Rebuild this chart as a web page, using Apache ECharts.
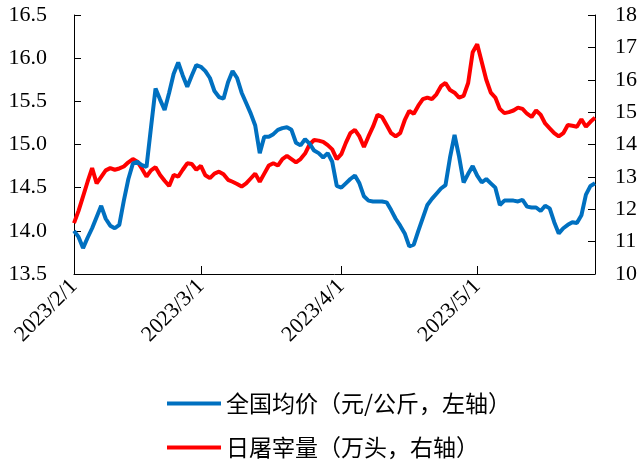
<!DOCTYPE html>
<html>
<head>
<meta charset="utf-8">
<script src="https://cdn.jsdelivr.net/npm/echarts@6/dist/echarts.min.js"></script>
<style>
  html, body { margin: 0; padding: 0; background: #fff; }
  #chart { width: 641px; height: 462px; }
</style>
</head>
<body>
<div id="chart"></div>
<script>
// daily dates 2023/2/1 .. 2023/5/27
const days = [];
for (let i = 0; i < 116; i++) {
  const d = new Date(2023, 1, 1 + i);
  days.push(d.getFullYear() + "/" + (d.getMonth() + 1) + "/" + d.getDate());
}

// 全国均价（元/公斤） - left axis
const priceValues = [
  14.00, 13.93, 13.80, 13.92, 14.03, 14.16, 14.29, 14.14, 14.06, 14.03,
  14.07, 14.35, 14.60, 14.78, 14.80, 14.76, 14.74, 15.20, 15.65, 15.52,
  15.40, 15.60, 15.82, 15.95, 15.80, 15.67, 15.80, 15.92, 15.90, 15.85,
  15.77, 15.62, 15.55, 15.53, 15.72, 15.85, 15.77, 15.60, 15.48, 15.36,
  15.22, 14.90, 15.09, 15.09, 15.12, 15.17, 15.19, 15.20, 15.17, 15.02,
  14.99, 15.06, 15.01, 14.93, 14.90, 14.85, 14.90, 14.80, 14.52, 14.50,
  14.55, 14.60, 14.64, 14.55, 14.40, 14.35, 14.34, 14.34, 14.34, 14.33,
  14.24, 14.14, 14.06, 13.97, 13.82, 13.84, 14.00, 14.15, 14.30, 14.37,
  14.43, 14.49, 14.53, 14.85, 15.11, 14.86, 14.56, 14.66, 14.75, 14.64,
  14.56, 14.60, 14.55, 14.50, 14.30, 14.35, 14.35, 14.35, 14.34, 14.36,
  14.28, 14.27, 14.27, 14.23, 14.29, 14.26, 14.10, 13.97, 14.03, 14.07,
  14.10, 14.09, 14.18, 14.42, 14.52, 14.55
];

// 日屠宰量（万头） - right axis
const slaughterValues = [
  11.57, 11.95, 12.40, 12.85, 13.27, 12.80, 13.00, 13.20, 13.27, 13.22,
  13.26, 13.32, 13.45, 13.55, 13.47, 13.25, 13.01, 13.20, 13.30, 13.06,
  12.88, 12.72, 13.06, 13.01, 13.22, 13.42, 13.40, 13.22, 13.34, 13.05,
  12.96, 13.10, 13.16, 13.08, 12.91, 12.85, 12.78, 12.70, 12.80, 12.95,
  13.10, 12.85, 13.10, 13.35, 13.42, 13.35, 13.55, 13.65, 13.55, 13.45,
  13.55, 13.72, 14.00, 14.14, 14.12, 14.08, 13.98, 13.85, 13.55, 13.70,
  14.05, 14.35, 14.45, 14.25, 13.92, 14.25, 14.55, 14.92, 14.85, 14.60,
  14.35, 14.25, 14.35, 14.75, 15.04, 14.95, 15.20, 15.40, 15.45, 15.40,
  15.55, 15.80, 15.90, 15.68, 15.60, 15.45, 15.50, 15.90, 16.85, 17.10,
  16.55, 16.00, 15.60, 15.45, 15.10, 14.97, 15.00, 15.05, 15.14, 15.10,
  14.95, 14.85, 15.05, 14.92, 14.65, 14.50, 14.35, 14.25, 14.35, 14.60,
  14.58, 14.55, 14.78, 14.55, 14.70, 14.83
];

const seriesNames = ["全国均价（元/公斤，左轴）", "日屠宰量（万头，右轴）"];

const serif = "Liberation Serif";
// only the first day of each month gets a tick and a label
const monthStart = (idx, val) => /\/1$/.test(val) && !/\/\d1$/.test(val);

function legendRow(name, top) {
  return {
    left: 167,
    top: top,
    padding: 0,
    icon: "rect",
    itemWidth: 54,
    itemHeight: 4,
    data: [name],
    textStyle: { fontFamily: "Noto Sans CJK SC", fontSize: 23, color: "#000" },
  };
}

const chart = echarts.init(document.getElementById("chart"));
chart.setOption({
  animation: false,
  grid: { left: 74, right: 46, top: 15, bottom: 188 },
  legend: [legendRow(seriesNames[0], 392), legendRow(seriesNames[1], 436)],
  xAxis: {
    type: "category",
    data: days,
    boundaryGap: false,
    axisLine: { lineStyle: { color: "#000", width: 1 } },
    axisTick: {
      inside: true,
      length: 8,
      interval: monthStart,
      lineStyle: { color: "#000" },
    },
    axisLabel: {
      interval: monthStart,
      rotate: 45,
      margin: 9,
      color: "#000",
      fontFamily: serif,
      fontSize: 22,
    },
    splitLine: { show: false },
  },
  yAxis: [
    {
      type: "value",
      min: 13.5,
      max: 16.5,
      interval: 0.5,
      axisLine: { show: true, lineStyle: { color: "#000" } },
      axisTick: { show: true, inside: true, length: 7, lineStyle: { color: "#000" } },
      axisLabel: {
        formatter: (v) => v.toFixed(1),
        margin: 27,
        color: "#000",
        fontFamily: serif,
        fontSize: 22,
      },
      splitLine: { show: false },
    },
    {
      type: "value",
      min: 10,
      max: 18,
      interval: 1,
      position: "right",
      axisLine: { show: true, lineStyle: { color: "#000" } },
      axisTick: { show: true, inside: true, length: 7, lineStyle: { color: "#000" } },
      axisLabel: {
        margin: 20,
        color: "#000",
        fontFamily: serif,
        fontSize: 22,
      },
      splitLine: { show: false },
    },
  ],
  series: [
    {
      name: seriesNames[0],
      type: "line",
      yAxisIndex: 0,
      data: priceValues,
      symbol: "none",
      lineStyle: { width: 4, color: "#0070C0" },
      itemStyle: { color: "#0070C0" },
      z: 3,
    },
    {
      name: seriesNames[1],
      type: "line",
      yAxisIndex: 1,
      data: slaughterValues,
      symbol: "none",
      lineStyle: { width: 4, color: "#FF0000" },
      itemStyle: { color: "#FF0000" },
      z: 2,
    },
  ],
});
</script>
</body>
</html>
